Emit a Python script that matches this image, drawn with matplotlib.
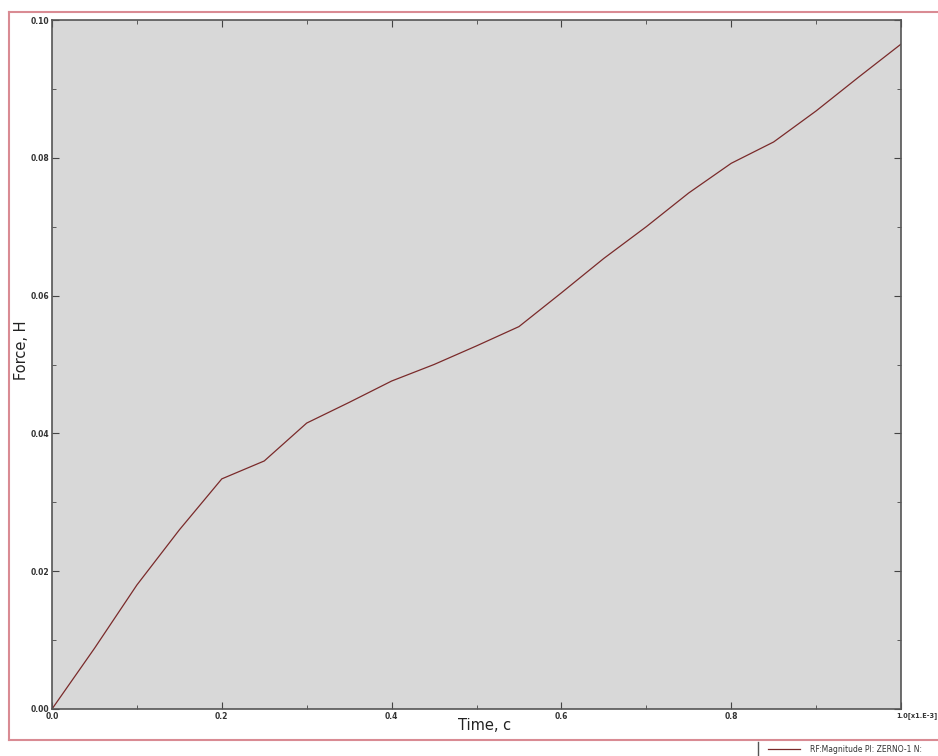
import matplotlib
matplotlib.use("Agg")
import matplotlib.pyplot as plt
from matplotlib.lines import Line2D

time = [0.0, 0.05, 0.1, 0.15, 0.2, 0.25, 0.3, 0.35, 0.4, 0.45, 0.5,
        0.55, 0.6, 0.65, 0.7, 0.75, 0.8, 0.85, 0.9, 0.95, 1.0]
force = [0.0, 0.0088, 0.0180, 0.0260, 0.0334, 0.0360, 0.0415, 0.0445, 0.0476, 0.0500, 0.0527,
         0.0555, 0.0604, 0.0654, 0.0700, 0.0749, 0.0792, 0.0823, 0.0868, 0.0917, 0.0965]
xticks = [0.0, 0.2, 0.4, 0.6, 0.8, 1.0]
xticklabels = ["0.0", "0.2", "0.4", "0.6", "0.8", "1.0[x1.E-3]"]
yticks = [0.00, 0.02, 0.04, 0.06, 0.08, 0.10]
yticklabels = ["0.00", "0.02", "0.04", "0.06", "0.08", "0.10"]
legend_text = "RF:Magnitude PI: ZERNO-1 N:"

W, H = 938, 756
fig = plt.figure(figsize=(W / 100, H / 100), dpi=100)
fig.patch.set_facecolor("white")

# red frame
fig.add_artist(Line2D([9 / W, 9 / W], [1 - 12 / H, 1 - 740 / H], color="#d98b93", lw=1.5, transform=fig.transFigure))
fig.add_artist(Line2D([9 / W, 1.0], [1 - 12 / H, 1 - 12 / H], color="#d98b93", lw=1.5, transform=fig.transFigure))
fig.add_artist(Line2D([9 / W, 1.0], [1 - 740 / H, 1 - 740 / H], color="#d98b93", lw=1.5, transform=fig.transFigure))
# legend box left border
fig.add_artist(Line2D([758 / W, 758 / W], [1 - 742 / H, 0.0], color="#555555", lw=1.0, transform=fig.transFigure))
fig.add_artist(Line2D([768 / W, 800 / W], [1 - 749 / H, 1 - 749 / H], color="#7a2a2a", lw=0.9, transform=fig.transFigure))
fig.text(810 / W, 1 - 749 / H, legend_text, fontsize=5.5, va="center", ha="left", color="#333333")

left, right, top, bottom = 52, 901, 20, 709
ax = fig.add_axes([left / W, 1 - bottom / H, (right - left) / W, (bottom - top) / H])
ax.set_facecolor("#d8d8d8")
ax.plot(time, force, color="#7a2a2a", lw=0.9)
ax.set_xlim(0, 1.0)
ax.set_ylim(0, 0.10)
ax.set_xticks(xticks)
ax.set_xticklabels(xticklabels)
ax.set_yticks(yticks)
ax.set_yticklabels(yticklabels)
ax.set_xticks([0.1, 0.3, 0.5, 0.7, 0.9], minor=True)
ax.set_yticks([0.01, 0.03, 0.05, 0.07, 0.09], minor=True)
ax.tick_params(which="both", direction="in", top=True, right=True, color="#444444",
               labelsize=5.5, labelcolor="#333333", pad=2)
ax.tick_params(which="major", length=5, width=0.8)
ax.tick_params(which="minor", length=3, width=0.6)
for lab in ax.get_xticklabels():
    lab.set_fontweight("bold")
for lab in ax.get_yticklabels():
    lab.set_fontweight("bold")
xl = ax.get_xticklabels()
xl[-1].set_horizontalalignment("left")
xl[-1].set_fontsize(4.8)
for s in ax.spines.values():
    s.set_color("#555555")
    s.set_linewidth(1.2)
fig.canvas.draw()
# shift last label slightly left so "1.0" sits near the tick
import matplotlib.transforms as mtransforms
off = mtransforms.ScaledTranslation(-5 / 100, 0, fig.dpi_scale_trans)
xl[-1].set_transform(xl[-1].get_transform() + off)

fig.text(485 / W, 1 - 725 / H, "Time, c", fontsize=10.5, ha="center", va="center", color="#222222")
fig.text(22 / W, 1 - 350 / H, "Force, H", fontsize=10.5, ha="center", va="center", rotation=90, color="#222222")

fig.savefig("out.png", dpi=100)
